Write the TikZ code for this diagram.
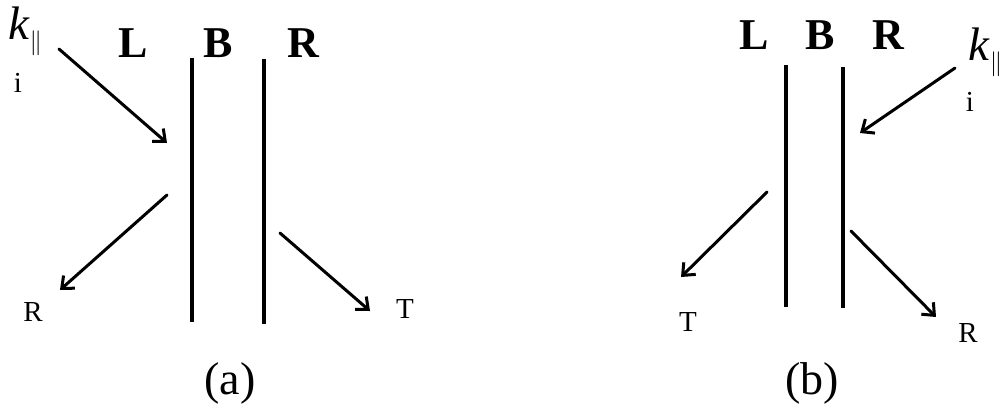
\documentclass[tikz,border=0pt]{standalone}
\usepackage{fontspec}
\setmainfont{Liberation Serif}
\usetikzlibrary{arrows.meta}
\begin{document}
\begin{tikzpicture}[x=1pt,y=-1pt,line join=round,line cap=round]
	\tikzset{wand/.style={line width=3.5pt,line cap=butt},
		strahl/.style={line width=3pt,-{Straight Barb[length=10pt,width=17pt,line width=3pt]}},
		schicht/.style={inner sep=0pt,font=\fontsize{44}{50}\selectfont\bfseries},
		klein/.style={inner sep=0pt,font=\fontsize{29}{34}\selectfont},
		welle/.style={inner sep=0pt,font=\fontsize{47}{52}\selectfont},
		titel/.style={inner sep=0pt,font=\fontsize{46}{52}\selectfont}}
	\useasboundingbox (0,0) rectangle (1008,416);
	%%% (a)
	\draw[wand] (192,58) coordinate (aL1) -- (192,322) coordinate (aL2);
	\draw[wand] (264,59) coordinate (aR1) -- (264,324) coordinate (aR2);
	\node[schicht] (aL) at (133,43) {L};
	\node[schicht] (aB) at (218,43) {B};
	\node[schicht] (aR) at (303,43) {R};
	\node[welle,anchor=base west] (ak) at (8,39) {\textit{k}$_{\|}$};
	\node[klein] (ai) at (18,83) {i};
	\node[klein] (arefl) at (33,312) {R};
	\node[klein] (atrans) at (405,309) {T};
	\node[titel] (atitel) at (230,383) {(a)};
	\coordinate (ain1) at (59,49);  \coordinate (ain2) at (167,143);
	\coordinate (are1) at (167,195); \coordinate (are2) at (60,290);
	\coordinate (atr1) at (280,233); \coordinate (atr2) at (370,311);
	\draw[strahl] (ain1) -- (ain2);
	\draw[strahl] (are1) -- (are2);
	\draw[strahl] (atr1) -- (atr2);
	%%% (b)
	\draw[wand] (786,65) coordinate (bL1) -- (786,307) coordinate (bL2);
	\draw[wand] (843,67) coordinate (bR1) -- (843,308) coordinate (bR2);
	\node[schicht] (bL) at (754,35) {L};
	\node[schicht] (bB) at (820,35) {B};
	\node[schicht] (bR) at (888,35) {R};
	\node[welle,anchor=base west] (bk) at (968,60) {\textit{k}$_{\|}$};
	\node[klein] (bi) at (970,102) {i};
	\node[klein] (btrans) at (688,322) {T};
	\node[klein] (brefl) at (968,333) {R};
	\node[titel] (btitel) at (812,383) {(b)};
	\coordinate (bin1) at (955,68);  \coordinate (bin2) at (860,133);
	\coordinate (btr1) at (767,192); \coordinate (btr2) at (681,277);
	\coordinate (bre1) at (851,231); \coordinate (bre2) at (936,317);
	\draw[strahl] (bin1) -- (bin2);
	\draw[strahl] (btr1) -- (btr2);
	\draw[strahl] (bre1) -- (bre2);
\end{tikzpicture}
\end{document}
